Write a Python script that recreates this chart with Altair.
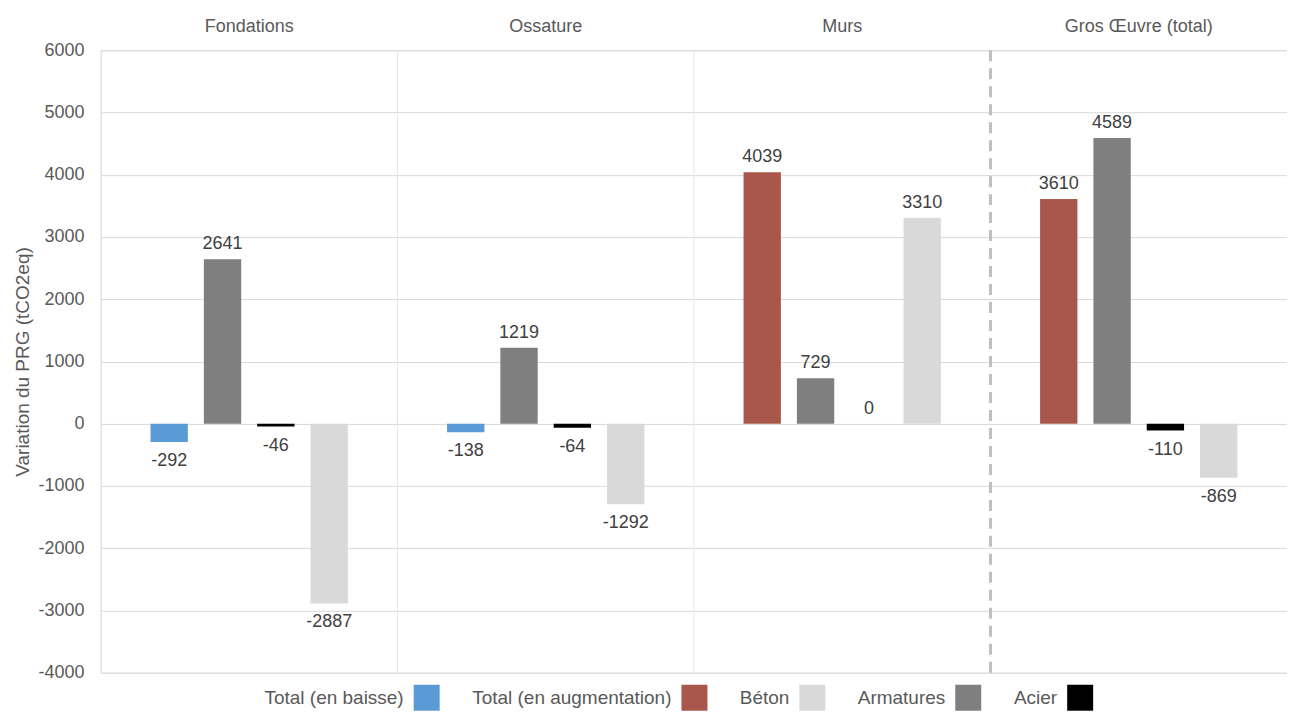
import altair as alt
import pandas as pd

groups = ["Fondations", "Ossature", "Murs", "Gros Œuvre (total)"]
total = [-292, -138, 4039, 3610]
armatures = [2641, 1219, 729, 4589]
acier = [-46, -64, 0, -110]
beton = [-2887, -1292, 3310, -869]

slots = ["Total", "Armatures", "Acier", "Béton"]
legend_labels = ["Total (en baisse)", "Total (en augmentation)", "Béton", "Armatures", "Acier"]
legend_colors = ["#5b9bd5", "#a9574b", "#d9d9d9", "#7f7f7f", "#000000"]
y_ticks = list(range(-4000, 6001, 1000))
sep_kind = ["solid", "solid", "solid", "dashed"]

rows = []
for i, g in enumerate(groups):
    for slot, series in zip(slots, [total, armatures, acier, beton]):
        v = series[i]
        if slot == "Total":
            cat = "Total (en baisse)" if v < 0 else "Total (en augmentation)"
        else:
            cat = slot
        rows.append({"group": g, "slot": slot, "value": v, "cat": cat})
df = pd.DataFrame(rows)
sep = pd.DataFrame({"group": groups, "kind": sep_kind})

W, H = 1187, 623
FONT = "Liberation Sans"
GREY = "#595959"

xscale = alt.Scale(domain=groups, paddingInner=0, paddingOuter=0)
xaxis = alt.Axis(orient="top", title=None, labelAngle=0, ticks=False, domain=False,
                 grid=False, labelFontSize=18, labelColor=GREY, labelPadding=15,
                 labelFont=FONT)
xenc = alt.X("group:N", scale=xscale, axis=xaxis)
xoff = alt.XOffset("slot:N", scale=alt.Scale(domain=slots, paddingInner=0.3, paddingOuter=0.93))
yscale = alt.Scale(domain=[-4000, 6000], nice=False, zero=False)
yaxis = alt.Axis(values=y_ticks, labelExpr="toString(datum.value)",
                 title="Variation du PRG (tCO2eq)",
                 titleFontSize=19, titleFontWeight="normal", titleColor=GREY,
                 titleFont=FONT, titlePadding=5,
                 labelFontSize=18, labelColor=GREY, labelFont=FONT, labelPadding=17,
                 ticks=False, domain=False, grid=True, gridColor="#d9d9d9", gridWidth=1)
yenc = alt.Y("value:Q", scale=yscale, axis=yaxis)

base = alt.Chart(df).transform_calculate(label="toString(datum.value)")

bars = base.mark_bar().encode(
    x=xenc, xOffset=xoff, y=yenc,
    color=alt.Color("cat:N", scale=alt.Scale(domain=legend_labels, range=legend_colors),
                    legend=alt.Legend(title=None, orient="none", legendX=313, legendY=635,
                                      direction="horizontal", symbolType="square",
                                      symbolSize=676, symbolStrokeWidth=0,
                                      labelFontSize=19, labelColor=GREY, labelFont=FONT,
                                      labelAlign="right", labelOffset={"expr": "-36"},
                                      labelLimit=300, columnPadding=32)),
)

txt_pos = base.transform_filter("datum.value >= 0").mark_text(
    baseline="alphabetic", dy=-10, fontSize=18, color="#404040", font=FONT
).encode(x=xenc, xOffset=xoff, y=yenc, text="label:N")

txt_neg = base.transform_filter("datum.value < 0").mark_text(
    baseline="alphabetic", dy=24, fontSize=18, color="#404040", font=FONT
).encode(x=xenc, xOffset=xoff, y=yenc, text="label:N")

xrule = alt.X("group:N", scale=xscale, axis=xaxis, bandPosition=0)
rules_solid = alt.Chart(sep).transform_filter("datum.kind == 'solid'").mark_rule(
    color="#e6e6e6", strokeWidth=1
).encode(x=xrule, y=alt.value(0), y2=alt.value(H))
rules_dash = alt.Chart(sep).transform_filter("datum.kind == 'dashed'").mark_rule(
    color="#bfbfbf", strokeWidth=3, strokeDash=[11, 7]
).encode(x=xrule, y=alt.value(0), y2=alt.value(H))

chart = alt.layer(rules_solid, rules_dash, bars, txt_pos, txt_neg).properties(
    width=W, height=H,
    padding={"left": 5, "top": 9, "right": 0, "bottom": 0},
).configure_view(stroke=None).configure(font=FONT)

chart.save("out.html", embed_options={"renderer": "svg", "actions": False})
